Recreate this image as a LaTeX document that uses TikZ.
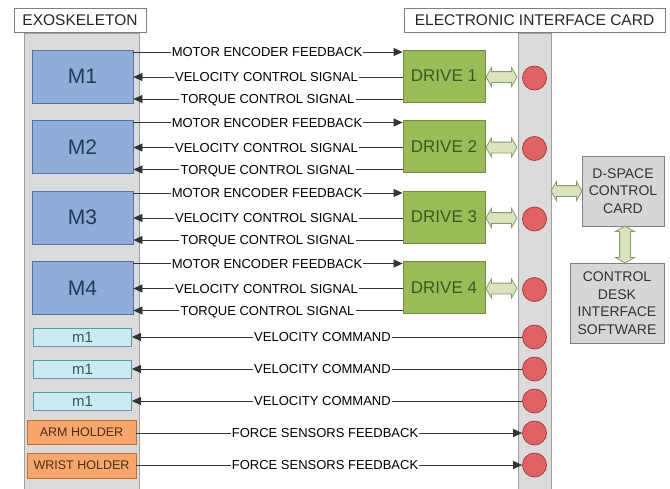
\documentclass[tikz,border=0pt]{standalone}
\usepackage{fontspec}
\setmainfont{Liberation Sans}
\usetikzlibrary{arrows.meta,shapes.arrows,calc}
\definecolor{colfill}{HTML}{DBDBDB}
\definecolor{colline}{HTML}{A0A0A0}
\definecolor{mfill}{HTML}{8FADD6}
\definecolor{mline}{HTML}{52749F}
\definecolor{mtext}{HTML}{23395A}
\definecolor{dfill}{HTML}{9BBB59}
\definecolor{dline}{HTML}{6F8C3A}
\definecolor{dtext}{HTML}{3D5A1C}
\definecolor{sfill}{HTML}{CBEBF1}
\definecolor{sline}{HTML}{5E98A4}
\definecolor{stext}{HTML}{2E5A66}
\definecolor{hfill}{HTML}{F8A66E}
\definecolor{hline}{HTML}{BF6F30}
\definecolor{htext}{HTML}{4A3010}
\definecolor{pfill}{HTML}{E06262}
\definecolor{pline}{HTML}{A84040}
\definecolor{afill}{HTML}{D7E4BD}
\definecolor{aline}{HTML}{8A9A6C}
\definecolor{gfill}{HTML}{D6D6D6}
\definecolor{gline}{HTML}{808080}
\begin{document}
\begin{tikzpicture}[x=1pt,y=-1pt,
  col/.style={draw=colline,fill=colfill,line width=0.8pt},
  title/.style={draw=gline,fill=white,line width=0.8pt,minimum height=24pt,inner sep=0pt,
     font=\fontsize{15.5}{17}\selectfont,text=black!85},
  mbox/.style={draw=mline,fill=mfill,line width=0.8pt,minimum width=101pt,minimum height=53pt,
     font=\fontsize{21}{24}\selectfont,text=mtext},
  drivebox/.style={draw=dline,fill=dfill,line width=0.8pt,minimum width=82pt,minimum height=52pt,
     font=\fontsize{17}{20}\selectfont,text=dtext},
  smallm/.style={draw=sline,fill=sfill,line width=0.8pt,minimum width=98pt,minimum height=18pt,inner sep=0pt,
     font=\fontsize{15}{17}\selectfont,text=stext},
  holder/.style={draw=hline,fill=hfill,line width=0.8pt,minimum width=109pt,minimum height=24pt,inner sep=0pt,
     font=\fontsize{12.5}{14}\selectfont,text=htext},
  port/.style={circle,draw=pline,fill=pfill,line width=0.8pt,minimum size=24pt,inner sep=0pt},
  lab/.style={inner xsep=1pt,inner ysep=0pt,text height=9.3pt,text depth=0pt,
     font=\fontsize{13}{15}\selectfont,text=black},
  conn/.style={draw=black!80,line width=0.8pt},
  tip/.style={-{Triangle[length=9pt,width=8pt]}},
  darr/.style={double arrow,draw=aline,fill=afill,line width=0.8pt,inner xsep=0pt,inner ysep=5pt,
     minimum width=18pt,double arrow head extend=4pt,double arrow tip angle=120},
  graybox/.style={draw=gline,fill=gfill,line width=0.8pt,align=center,
     font=\fontsize{14}{17.5}\selectfont,text=black!80,inner sep=0pt}
]
\useasboundingbox (0,0) rectangle (670,488);
\fill[white] (0,0) rectangle (670,488);

% columns
\node[col,minimum width=115pt,minimum height=460pt,inner sep=0pt] (exocol) at (81.5,263) {};
\node[col,minimum width=33pt,minimum height=460pt,inner sep=0pt] (ecol) at (534.5,263) {};

% titles
\node[title,minimum width=132pt] (exotitle) at (80,20) {EXOSKELETON};
\node[title,minimum width=261pt] (etitle) at (534.5,20) {ELECTRONIC INTERFACE CARD};

% motor rows
\foreach \i/\d in {1/0,2/70.5,3/141,4/211.5}{
  \node[mbox] (M\i) at (82.5,76.5+\d) {M\i};
  \node[drivebox] (D\i) at (444,76+\d) {DRIVE \i};
  \node[lab] (enc\i) at (267,52+\d) {MOTOR ENCODER FEEDBACK};
  \node[lab] (vel\i) at (266.5,77+\d) {VELOCITY CONTROL SIGNAL};
  \node[lab] (tor\i) at (267.5,99+\d) {TORQUE CONTROL SIGNAL};
  \node[port] (P\i) at (534.5,78+\d) {};
  \draw[conn] (enc\i.west -| M\i.east) -- (enc\i.west);
  \draw[conn,tip] (enc\i.east) -- (enc\i.east -| D\i.west);
  \draw[conn,tip] (vel\i.west) -- (vel\i.west -| M\i.east);
  \draw[conn] (vel\i.east) -- (vel\i.east -| D\i.west);
  \draw[conn,tip] (tor\i.west) -- (tor\i.west -| M\i.east);
  \draw[conn] (tor\i.east) -- (tor\i.east -| D\i.west);
  \node[darr,minimum height=31pt] (A\i) at ($(D\i.east)!0.5!(D\i.east -| ecol.west)+(0,1)$) {};
}

% small motors
\foreach \j/\y in {1/337,2/369,3/401}{
  \node[smallm] (m\j) at (82.5,\y) {m1};
  \node[lab] (vc\j) at (322.5,\y) {VELOCITY COMMAND};
  \node[port] (Q\j) at (534.5,\y) {};
  \draw[conn,tip] (vc\j.west) -- (vc\j.west -| m\j.east);
  \draw[conn] (vc\j.east) -- (Q\j.west);
}

% holders
\node[holder] (arm) at (81.5,432) {ARM HOLDER};
\node[holder,minimum height=25pt] (wrist) at (81.5,465.5) {WRIST HOLDER};
\node[lab] (fs1) at (325,433) {FORCE SENSORS FEEDBACK};
\node[lab] (fs2) at (325,465) {FORCE SENSORS FEEDBACK};
\node[port] (Q4) at (534.5,433) {};
\node[port] (Q5) at (534.5,465) {};
\draw[conn] (fs1.west -| arm.east) -- (fs1.west);
\draw[conn,tip] (fs1.east) -- (Q4.west);
\draw[conn] (fs2.west -| wrist.east) -- (fs2.west);
\draw[conn,tip] (fs2.east) -- (Q5.west);

% dSPACE
\node[graybox,minimum width=82pt,minimum height=70pt] (dspace) at (623,191) {D-SPACE\\CONTROL\\CARD};
\node[graybox,minimum width=94pt,minimum height=80pt] (desk) at (617,303) {CONTROL\\DESK\\INTERFACE\\SOFTWARE};
\node[darr,minimum height=31pt] (Ad) at ($(ecol.east |- dspace.west)!0.5!(dspace.west)$) {};
\node[darr,minimum height=37pt,rotate=90] (Av) at ($(625,0 |- dspace.south)!0.5!(625,0 |- desk.north)$) {};
\end{tikzpicture}
\end{document}
